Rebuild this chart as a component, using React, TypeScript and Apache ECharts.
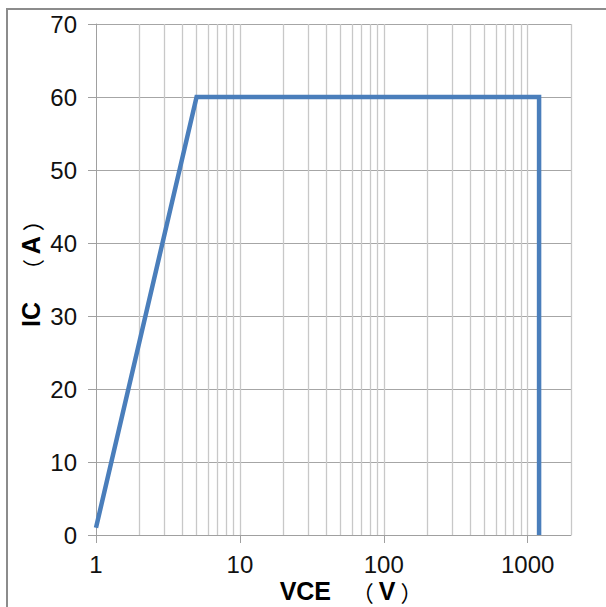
import React, { useEffect, useRef } from "react";
import * as echarts from "echarts";

// Safe operating area: collector current vs collector-emitter voltage
const vce = [1, 5, 1200, 1200];
const ic = [1, 60, 60, 0];

// Log-decade grid positions on the VCE axis
const majorX = [1, 10, 100, 1000];
const minorX = [
  2, 3, 4, 5, 6, 7, 8, 9,
  20, 30, 40, 50, 60, 70, 80, 90,
  200, 300, 400, 500, 600, 700, 800, 900,
  2000,
];

const FONT = "'Liberation Sans', Arial, 'Noto Sans CJK SC', sans-serif";
const CJK = "'Noto Sans CJK SC', sans-serif";

// Axis title styles: bold Latin letters, light full-width brackets
const titleRich = {
  b: { fontFamily: FONT, fontWeight: "bold", fontSize: 25, fill: "#000" },
  p: { fontFamily: CJK, fontWeight: "normal", fontSize: 22, fill: "#000" },
};

export default function App() {
  const ref = useRef<HTMLDivElement>(null);

  useEffect(() => {
    if (!ref.current) return;
    const chart = echarts.init(ref.current, undefined, { renderer: "svg" });
    chart.setOption({
      animation: false,
      backgroundColor: "#ffffff",
      grid: { left: 96, top: 24, right: 35, bottom: 72, containLabel: false },
      xAxis: {
        type: "log",
        logBase: 10,
        min: 1,
        max: 2000,
        axisLine: { show: true, onZero: false, lineStyle: { color: "#a0a0a0", width: 1 } },
        axisTick: {
          show: true,
          length: 8,
          customValues: majorX,
          lineStyle: { color: "#a0a0a0" },
        },
        axisLabel: {
          customValues: majorX,
          margin: 17,
          color: "#111",
          fontSize: 24,
          fontFamily: FONT,
          formatter: (v: number) => String(Math.round(v)),
        },
        splitLine: { show: false },
        minorTick: { show: false },
      },
      yAxis: {
        type: "value",
        min: 0,
        max: 70,
        interval: 10,
        axisLine: { show: true, lineStyle: { color: "#a0a0a0", width: 1 } },
        axisTick: { show: true, length: 8, lineStyle: { color: "#a0a0a0" } },
        axisLabel: {
          margin: 19,
          color: "#111",
          fontSize: 24,
          fontFamily: FONT,
        },
        splitLine: { show: true, lineStyle: { color: "#a6a6a6", width: 1 } },
      },
      series: [
        {
          // vertical decade grid lines
          type: "line",
          data: [],
          silent: true,
          z: 1,
          markLine: {
            silent: true,
            symbol: "none",
            label: { show: false },
            animation: false,
            lineStyle: { color: "#c8c8c8", width: 1.3, type: "solid" },
            data: [...majorX.slice(1), ...minorX].map((v) => ({ xAxis: v })),
          },
        },
        {
          type: "line",
          data: vce.map((v, i) => [v, ic[i]]),
          symbol: "none",
          z: 5,
          lineStyle: { color: "#4a7ebb", width: 4.5, cap: "butt", join: "miter" },
        },
      ],
      graphic: [
        {
          type: "rect",
          shape: { x: 7, y: 9, width: 640, height: 640 },
          style: { fill: "none", stroke: "#8c8c8c", lineWidth: 2 },
          silent: true,
          z: 0,
        },
        {
          type: "text",
          x: 351,
          y: 591,
          style: {
            text: "{b|VCE   }{p|（ }{b|V}{p| ）}",
            rich: titleRich,
            align: "center",
            verticalAlign: "middle",
          },
        },
        {
          type: "text",
          x: 31,
          y: 268,
          rotation: Math.PI / 2,
          style: {
            text: "{b|IC   }{p|（ }{b|A}{p| ）}",
            rich: titleRich,
            align: "center",
            verticalAlign: "middle",
          },
        },
      ],
    });
    return () => chart.dispose();
  }, []);

  return (
    <div
      ref={ref}
      style={{ position: "fixed", left: 0, top: 0, width: 606, height: 607 }}
    />
  );
}
